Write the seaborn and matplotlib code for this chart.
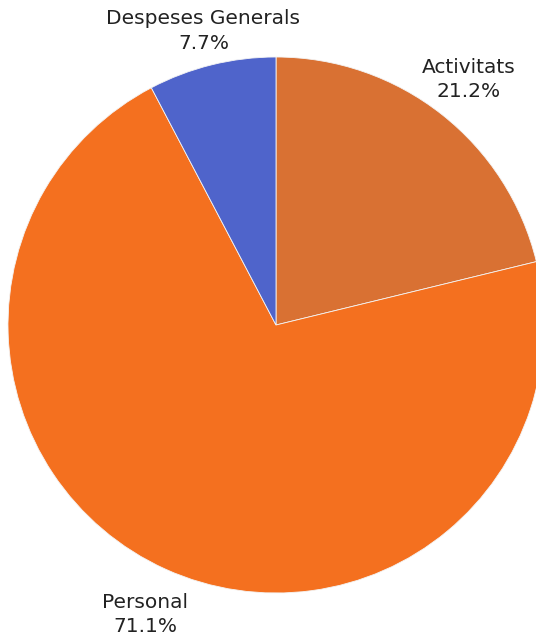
import numpy as np
import matplotlib
matplotlib.use("Agg")
import matplotlib.pyplot as plt
import seaborn as sns

categories = ["Activitats", "Personal", "Despeses Generals"]
values = [21.2, 71.1, 7.7]
colors = ["#D97133", "#F4701F", "#4F64CB"]

sns.set_theme(style="white")
plt.rcParams["font.family"] = ["DejaVu Sans"]

fig = plt.figure(figsize=(5.36, 6.4), dpi=100)
ax = fig.add_axes([0, 0, 1, 1])

wedges, _ = ax.pie(
    values,
    colors=colors,
    startangle=90,
    counterclock=False,
    radius=1,
    wedgeprops=dict(edgecolor="#f4f4f4", linewidth=0.6),
)

# etiquetas centradas fuera de cada sector
dists = [1.165, 1.185, 1.13]
for w, cat, v, d in zip(wedges, categories, values, dists):
    ang = np.deg2rad((w.theta1 + w.theta2) / 2)
    ax.text(d * np.cos(ang), d * np.sin(ang), f"{cat}\n{v}%",
            ha="center", va="center", fontsize=14.5, color="#222222",
            linespacing=1.35)

# radio de 268 px, centro en (276, 325) desde arriba
r = 268
ax.set_xlim(-276 / r, (536 - 276) / r)
ax.set_ylim(-(640 - 325) / r, 325 / r)
ax.set_aspect("auto")
ax.axis("off")

fig.savefig("out.png", dpi=100)
